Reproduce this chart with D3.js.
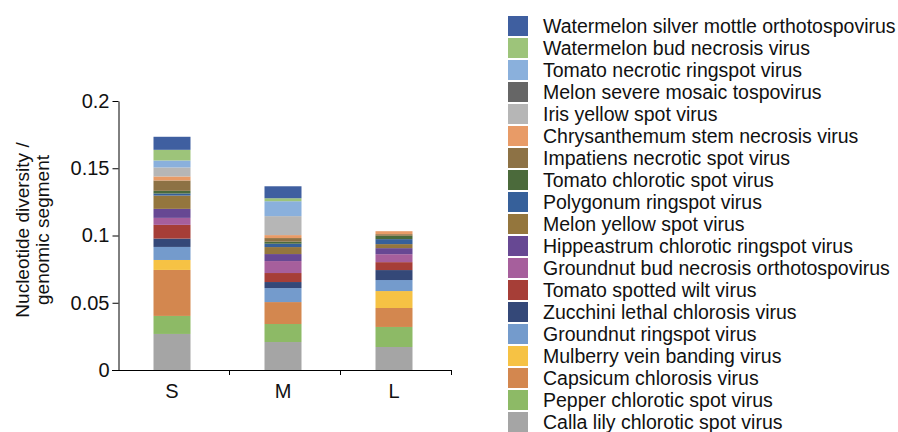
<!DOCTYPE html>
<html>
<head>
<meta charset="utf-8">
<script src="https://cdn.jsdelivr.net/npm/d3@7"></script>
<style>
  html, body { margin: 0; padding: 0; background: #fff; }
  svg { display: block; font-family: "Liberation Sans", Arial, Helvetica, sans-serif; }
</style>
</head>
<body>
<svg id="chart" width="898" height="432"></svg>
<script>
// Segments (bottom to top of the stack)
const viruses = [
  "Calla lily chlorotic spot virus",
  "Pepper chlorotic spot virus",
  "Capsicum chlorosis virus",
  "Mulberry vein banding virus",
  "Groundnut ringspot virus",
  "Zucchini lethal chlorosis virus",
  "Tomato spotted wilt virus",
  "Groundnut bud necrosis orthotospovirus",
  "Hippeastrum chlorotic ringspot virus",
  "Melon yellow spot virus",
  "Polygonum ringspot virus",
  "Tomato chlorotic spot virus",
  "Impatiens necrotic spot virus",
  "Chrysanthemum stem necrosis virus",
  "Iris yellow spot virus",
  "Melon severe mosaic tospovirus",
  "Tomato necrotic ringspot virus",
  "Watermelon bud necrosis virus",
  "Watermelon silver mottle orthotospovirus"
];
const colors = [
  "#a5a5a5", "#8dba66", "#d3874f", "#f6c244", "#749bcc", "#344878",
  "#a63e37", "#a65f9c", "#674893", "#94763d", "#36609a", "#4b6a3b",
  "#8d7245", "#e89b67", "#b6b6b6", "#666666", "#8ab0dc", "#9dc47a", "#3f5fa0"
];
const segments = ["S", "M", "L"];
const valuesS = [0.0268, 0.0134, 0.0342, 0.0074, 0.0097, 0.0062, 0.0102, 0.0052, 0.0067, 0.0099,
                 0.0015, 0.0020, 0.0077, 0.0030, 0.0067, 0.0000, 0.0052, 0.0079, 0.0097];
const valuesM = [0.0208, 0.0134, 0.0163, 0.0000, 0.0104, 0.0045, 0.0067, 0.0089, 0.0052, 0.0052,
                 0.0025, 0.0015, 0.0027, 0.0022, 0.0141, 0.0000, 0.0111, 0.0022, 0.0089];
const valuesL = [0.0171, 0.0149, 0.0141, 0.0126, 0.0082, 0.0074, 0.0059, 0.0059, 0.0045, 0.0030,
                 0.0037, 0.0025, 0.0012, 0.0022, 0.0000, 0.0000, 0.0000, 0.0000, 0.0000];
const yTicks = [0, 0.05, 0.1, 0.15, 0.2];
const yTickLabels = ["0", "0.05", "0.1", "0.15", "0.2"];
const yTitle = ["Nucleotide diversity /", "genomic segment"];

const table = segments.map((s, i) => {
  const vals = [valuesS, valuesM, valuesL][i];
  const row = { segment: s };
  viruses.forEach((v, j) => row[v] = vals[j]);
  return row;
});

const svg = d3.select("#chart");
const x = d3.scaleBand().domain(segments).range([118, 451]).paddingInner(0).paddingOuter(0);
const y = d3.scaleLinear().domain([0, 0.2]).range([370, 101]);
const color = d3.scaleOrdinal().domain(viruses).range(colors);
const barW = 37;

const stack = d3.stack().keys(viruses)(table);

svg.append("g").selectAll("g").data(stack).join("g")
  .attr("fill", d => color(d.key))
  .selectAll("rect").data(d => d).join("rect")
  .attr("x", d => x(d.data.segment) + x.bandwidth() / 2 - barW / 2 - 1.5)
  .attr("y", d => y(d[1]))
  .attr("width", barW)
  .attr("height", d => Math.max(0, y(d[0]) - y(d[1])));

// Y axis
const yAxis = svg.append("g").attr("transform", "translate(118.5,0)")
  .call(d3.axisLeft(y).tickValues(yTicks).tickFormat((d, i) => yTickLabels[i]).tickSize(6).tickSizeOuter(0));
yAxis.select(".domain").attr("stroke", "#000");
yAxis.selectAll(".tick line").attr("stroke", "#000");
yAxis.selectAll(".tick text").attr("font-size", 20).attr("fill", "#111").attr("x", -9)
  .attr("font-family", "'Liberation Sans', Arial, sans-serif");

// X axis
const xAxis = svg.append("g").attr("transform", "translate(0,370.5)")
  .call(d3.axisBottom(x).tickSize(0).tickSizeOuter(0));
xAxis.select(".domain").attr("stroke", "#000").attr("d", "M112,0H451");
xAxis.selectAll(".tick text").attr("font-size", 20).attr("fill", "#111").attr("dy", "1.2em")
  .attr("font-family", "'Liberation Sans', Arial, sans-serif")
  .attr("transform", "translate(-1.5,0)");
const boundaries = segments.map(s => x(s)).concat([x(segments[2]) + x.bandwidth()]);
svg.append("g").selectAll("line").data(boundaries.slice(1)).join("line")
  .attr("x1", d => Math.round(d) + 0.5).attr("x2", d => Math.round(d) + 0.5)
  .attr("y1", 370).attr("y2", 375).attr("stroke", "#000");

// Y title
const yt = svg.append("text").attr("transform", "translate(32,230) rotate(-90)")
  .attr("text-anchor", "middle").attr("font-size", 19).attr("fill", "#111");
yt.selectAll("tspan").data(yTitle).join("tspan")
  .attr("x", 0).attr("dy", (d, i) => i === 0 ? "-0.15em" : "1.05em").text(d => d);

// Legend (top = last series)
const legendItems = viruses.slice().reverse();
const lg = svg.append("g").attr("transform", "translate(508,16)");
const item = lg.selectAll("g").data(legendItems).join("g")
  .attr("transform", (d, i) => `translate(0,${i * 22})`);
item.append("rect").attr("width", 20).attr("height", 20).attr("fill", d => color(d));
item.append("text").attr("x", 35).attr("y", 10).attr("dy", "0.38em")
  .attr("font-size", 19.5).attr("fill", "#111").text(d => d);
</script>
</body>
</html>
